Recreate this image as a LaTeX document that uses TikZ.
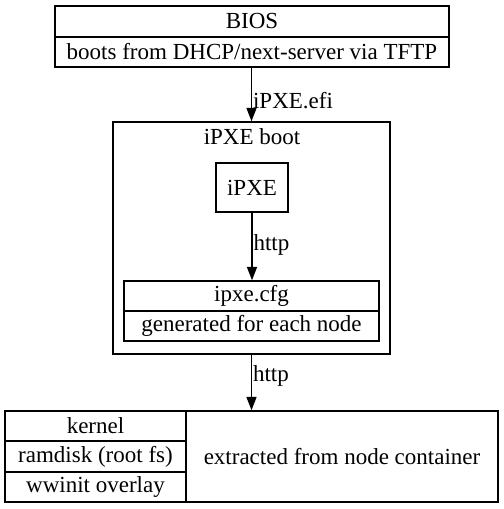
\documentclass[tikz,border=0pt]{standalone}
\usepackage{fontspec}
\setmainfont{Liberation Serif}
\usetikzlibrary{arrows.meta}
\begin{document}
\def\u{0.6pt}
\begin{tikzpicture}[x=0.6pt,y=-0.6pt,
  font=\fontsize{13.8}{16}\selectfont,
  field/.style={draw, line width=0.9pt, inner sep=0pt, anchor=center},
  edge/.style={draw, line width=0.9pt, -{Triangle[length=8pt,width=6pt]}},
  elabel/.style={anchor=west, inner sep=0pt, xshift=0.5pt}]
\useasboundingbox (0,0) rectangle (504,509);
% BIOS record
\node[field, minimum width=394*\u, minimum height=31*\u] (biosA) at (252,21.5) {BIOS};
\node[field, minimum width=394*\u, minimum height=30*\u] (biosB) at (252,52) {boots from DHCP/next-server via TFTP};
% cluster
\node[field, minimum width=277*\u, minimum height=232*\u] (cluster) at (251.5,238) {};
\node[inner sep=0pt] (ctitle) at (252,137) {iPXE boot};
\node[field, minimum width=72*\u, minimum height=49*\u] (ipxe) at (252,187.5) {iPXE};
\node[field, minimum width=255*\u, minimum height=30*\u] (cfgA) at (251.5,296) {ipxe.cfg};
\node[field, minimum width=255*\u, minimum height=30*\u] (cfgB) at (251.5,326) {generated for each node};
% bottom record
\node[field, minimum width=181*\u, minimum height=30*\u] (kernel) at (95.5,426) {kernel};
\node[field, minimum width=181*\u, minimum height=31*\u] (ramdisk) at (95.5,456.5) {ramdisk (root fs)};
\node[field, minimum width=181*\u, minimum height=30*\u] (wwinit) at (95.5,487) {wwinit overlay};
\node[field, minimum width=312*\u, minimum height=91*\u] (extract) at (342,456.5) {extracted from node container};
% edges
\draw[edge] (biosB.south -| cluster.north) -- node[elabel, pos=0.62] {iPXE.efi} (cluster.north);
\draw[edge] (ipxe.south) -- node[elabel, pos=0.47] {http} (ipxe.south |- cfgA.north);
\draw[edge] (cluster.south) -- node[elabel, pos=0.39] {http} (cluster.south |- extract.north);
\end{tikzpicture}
\end{document}
